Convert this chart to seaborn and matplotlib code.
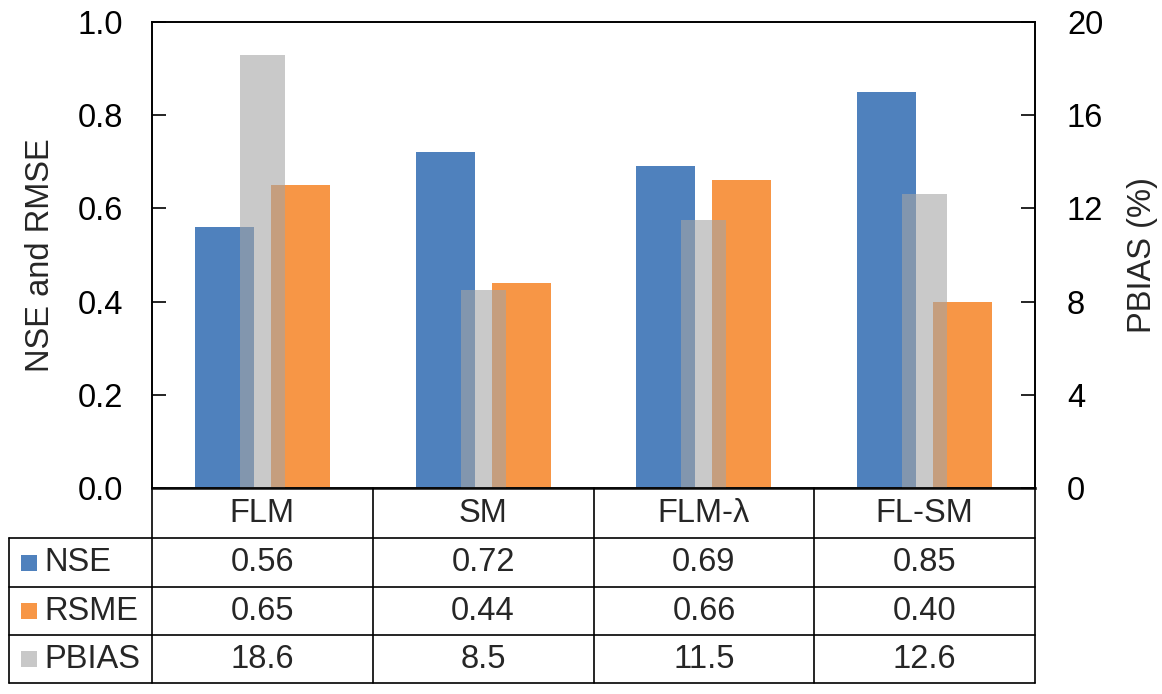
import matplotlib
matplotlib.use("Agg")
import matplotlib.pyplot as plt
import matplotlib.transforms as mtransforms
from matplotlib.lines import Line2D
from matplotlib.patches import Rectangle
import seaborn as sns
import pandas as pd

categories = ["FLM", "SM", "FLM-λ", "FL-SM"]
nse = [0.56, 0.72, 0.69, 0.85]
rsme = [0.65, 0.44, 0.66, 0.40]
pbias = [18.6, 8.5, 11.5, 12.6]
row_names = ["NSE", "RSME", "PBIAS"]
row_texts = [["0.56", "0.72", "0.69", "0.85"],
             ["0.65", "0.44", "0.66", "0.40"],
             ["18.6", "8.5", "11.5", "12.6"]]
left_ticks = [0.0, 0.2, 0.4, 0.6, 0.8, 1.0]
right_ticks = [0, 4, 8, 12, 16, 20]

C_NSE = "#4F81BD"
C_RSME = "#F79646"
C_PB = "#A5A5A5"
C_PB_KEY = "#C8C8C8"

sns.set_theme(style="white")
plt.rcParams["font.family"] = ["Liberation Sans", "DejaVu Sans"]

FS = 23.5
W, H = 1162, 694
fig = plt.figure(figsize=(W / 100, H / 100), dpi=100)

def fx(px):
    return px / W

def fy(py):
    return 1 - py / H

L, R, T, B = 152, 1035, 22, 488
ax = fig.add_axes([fx(L), fy(B), fx(R) - fx(L), fy(T) - fy(B)])

df = pd.DataFrame({
    "cat": categories * 2,
    "metric": ["NSE"] * 4 + ["RSME"] * 4,
    "val": nse + rsme,
})
sns.barplot(data=df, x="cat", y="val", hue="metric", order=categories,
            hue_order=["NSE", "RSME"], palette={"NSE": C_NSE, "RSME": C_RSME},
            width=0.688, gap=0.224, saturation=1, errorbar=None,
            legend=False, ax=ax, linewidth=0)

ax2 = ax.twinx()
sns.barplot(x=categories, y=pbias, order=categories, color=C_PB, alpha=0.6,
            width=0.204, saturation=1, errorbar=None, ax=ax2, linewidth=0)

ax.set_xlim(-0.5, 3.5)
ax.set_ylim(0, 1.0)
ax2.set_ylim(0, 20)
ax.set_yticks(left_ticks)
ax.set_yticklabels([f"{t:.1f}" for t in left_ticks])
ax2.set_yticks(right_ticks)
ax2.set_yticklabels([str(t) for t in right_ticks])
ax.set_xticks([])
ax2.set_xticks([])
ax.set_xlabel("")
ax2.set_xlabel("")
ax.set_ylabel("NSE and RMSE", fontsize=FS, labelpad=15)
ax2.set_ylabel("PBIAS (%)", fontsize=FS, labelpad=17)
ax.tick_params(axis="y", direction="in", length=10, width=1.2, labelsize=FS,
               pad=21, left=True, colors="black")
ax2.tick_params(axis="y", direction="in", length=10, width=1.2, labelsize=FS,
                pad=23, right=True, colors="black")
for a in (ax, ax2):
    for s in a.spines.values():
        s.set_color("black")
        s.set_linewidth(1.2)
ax.spines["bottom"].set_linewidth(2.0)
ax.spines["bottom"].set_color("#333333")

# ---- data table below ----
trans = mtransforms.blended_transform_factory(ax.transData, fig.transFigure)
rows_y = [B, 538, 587, 635, 683]
col_edges = [-0.5, 0.5, 1.5, 2.5, 3.5]
lw = 1.2
for xe in col_edges:
    fig.add_artist(Line2D([xe, xe], [fy(B), fy(683)], transform=trans,
                          color="black", lw=lw, clip_on=False))
fig.add_artist(Line2D([fx(9), fx(9)], [fy(538), fy(683)], transform=fig.transFigure,
                      color="black", lw=lw))
for yy in rows_y[1:]:
    fig.add_artist(Line2D([fx(9), fx(R)], [fy(yy), fy(yy)], transform=fig.transFigure,
                          color="black", lw=lw))

# header row
for i, c in enumerate(categories):
    fig.text(i, fy((rows_y[0] + rows_y[1]) / 2), c, transform=trans,
             ha="center", va="center", fontsize=FS)

colors = [C_NSE, C_RSME, C_PB_KEY]
for r, name in enumerate(row_names):
    yc = (rows_y[r + 1] + rows_y[r + 2]) / 2
    fig.add_artist(Rectangle((fx(21), fy(yc + 8)), fx(16), 16 / H,
                             transform=fig.transFigure, color=colors[r], lw=0))
    fig.text(fx(44), fy(yc), name, ha="left", va="center", fontsize=FS)
    for i in range(len(categories)):
        fig.text(i, fy(yc), row_texts[r][i], transform=trans,
                 ha="center", va="center", fontsize=FS)

fig.savefig("out.png", dpi=100)
